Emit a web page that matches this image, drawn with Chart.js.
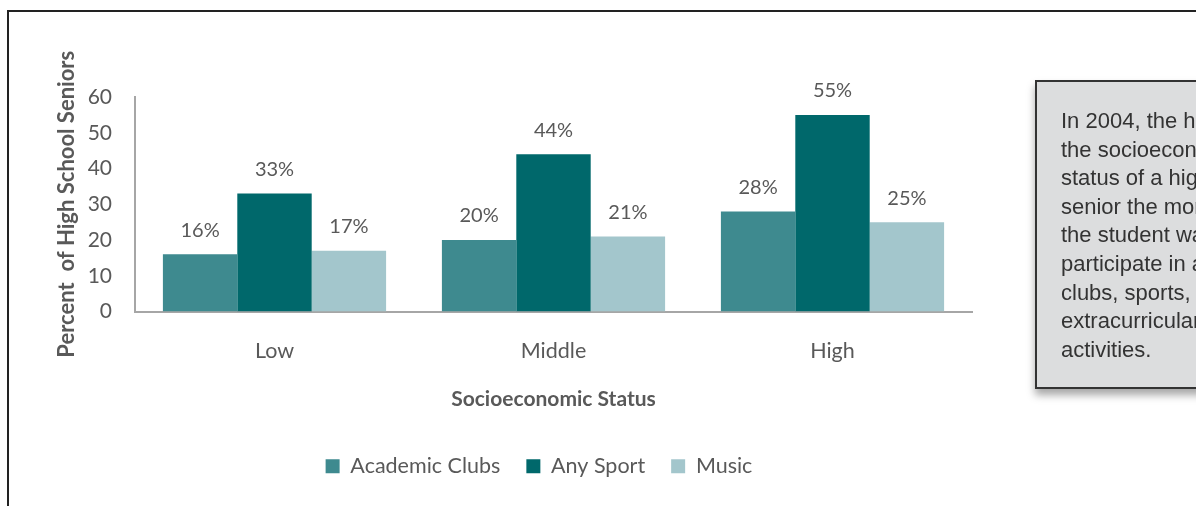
<!DOCTYPE html>
<html>
<head>
<meta charset="utf-8">
<script src="https://cdn.jsdelivr.net/npm/chart.js@4.4.1/dist/chart.umd.min.js"></script>
<style>
    html, body { margin: 0; padding: 0; background: #fff; overflow: hidden; }
    body { width: 1196px; height: 506px; position: relative; }
    .frame {
        position: absolute; left: 7px; top: 10px; width: 1300px; height: 600px;
        border: 2px solid #222; box-sizing: border-box;
    }
    #chart-wrap { position: absolute; left: 10px; top: 13px; width: 1058px; height: 490px; }
    .note {
        position: absolute; left: 1035px; top: 80px; width: 260px; height: 309px;
        background: #dcddde; border: 2px solid #333; box-sizing: border-box;
        box-shadow: 0 6px 8px rgba(0,0,0,0.35);
        font-family: "Liberation Sans", Arial, sans-serif; font-size: 22px; line-height: 28.6px;
        color: #333; padding: 25px 0 0 24px; white-space: nowrap;
        z-index: 2;
    }
</style>
</head>
<body>
<div class="frame"></div>
<div id="chart-wrap"><canvas id="chart"></canvas></div>
<div class="note">In 2004, the higher<br>the socioeconomic<br>status of a high school<br>senior the more likely<br>the student was to<br>participate in academic<br>clubs, sports, and<br>extracurricular<br>activities.</div>
<script>
const categories = ['Low', 'Middle', 'High'];
const academicClubs = [16, 20, 28];
const anySport = [33, 44, 55];
const music = [17, 21, 25];
const yTicks = [0, 10, 20, 30, 40, 50, 60];

const gray = '#595959';
const font = 'Lato, "Open Sans", sans-serif';

// prints "nn%" above every bar
const barLabels = {
    id: 'barLabels',
    afterDatasetsDraw(chart) {
        const ctx = chart.ctx;
        ctx.save();
        ctx.font = '20px ' + font;
        ctx.fillStyle = gray;
        ctx.textAlign = 'center';
        ctx.textBaseline = 'middle';
        chart.data.datasets.forEach((ds, i) => {
            chart.getDatasetMeta(i).data.forEach((bar, j) => {
                ctx.fillText(ds.data[j] + '%', bar.x, bar.y - 24);
            });
        });
        ctx.restore();
    }
};

// nudge the legend row to the right, it sits off-centre under the plot
const legendShift = {
    id: 'legendShift',
    afterLayout(chart) {
        chart.legend.left += 48;
        chart.legend.right += 48;
    }
};

new Chart(document.getElementById('chart'), {
    type: 'bar',
    data: {
        labels: categories,
        datasets: [
            { label: 'Academic Clubs', data: academicClubs, backgroundColor: '#3e8a8f' },
            { label: 'Any Sport', data: anySport, backgroundColor: '#00686b' },
            { label: 'Music', data: music, backgroundColor: '#a3c6cc' }
        ]
    },
    options: {
        responsive: true,
        maintainAspectRatio: false,
        animation: false,
        categoryPercentage: 0.8,
        barPercentage: 1.0,
        layout: { padding: { left: 0, right: 96, top: 84, bottom: 16 } },
        scales: {
            x: {
                grid: { display: false, drawTicks: false },
                border: { display: true, color: '#a6a6a6', width: 2 },
                ticks: { color: gray, font: { family: font, size: 21.5 }, padding: 27 },
                title: { display: true, text: 'Socioeconomic Status', color: gray,
                         font: { family: font, size: 21, weight: 'bold' }, padding: { top: 0, bottom: 18 } },
                afterFit: s => { s.height = 118; }
            },
            y: {
                min: 0, max: 60,
                afterBuildTicks: s => { s.ticks = yTicks.map(v => ({ value: v })); },
                grid: { display: false, drawTicks: false },
                border: { display: true, color: '#a6a6a6', width: 2 },
                ticks: { color: gray, font: { family: font, size: 21 }, padding: 23 },
                title: { display: true, text: 'Percent  of High School Seniors', color: gray,
                         font: { family: font, size: 22, weight: 'bold' }, padding: { top: 44, bottom: 0 } },
                afterFit: s => { s.width = 125; }
            }
        },
        plugins: {
            legend: {
                position: 'bottom',
                labels: { color: gray, font: { family: font, size: 21.5 }, boxWidth: 14, boxHeight: 14, padding: 26 }
            },
            tooltip: { enabled: false }
        }
    },
    plugins: [barLabels, legendShift]
});
</script>
</body>
</html>
